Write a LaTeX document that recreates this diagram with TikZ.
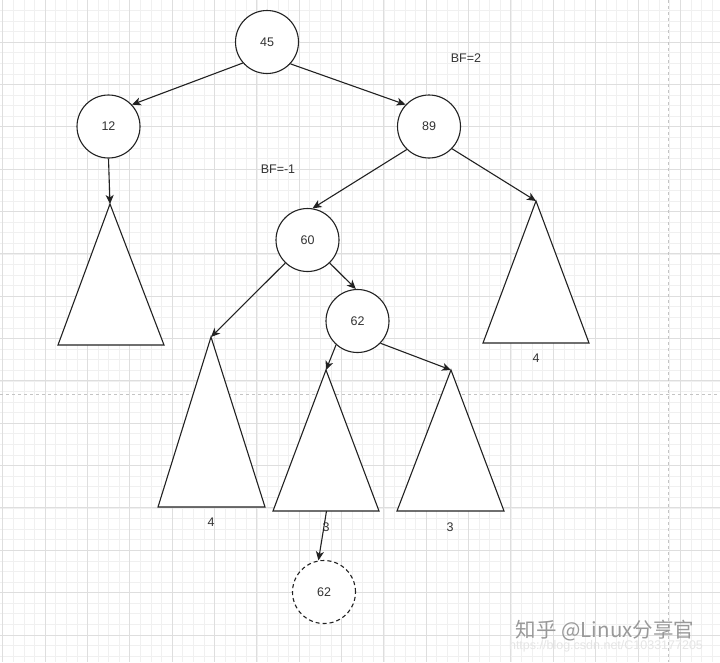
\documentclass[tikz,border=0pt]{standalone}
\usepackage{fontspec}
\setmainfont{Liberation Sans}
\newfontfamily\cjk{Noto Sans CJK SC}
\usetikzlibrary{arrows.meta}
\definecolor{minorgrid}{HTML}{F0F0F0}
\definecolor{majorgrid}{HTML}{DEDEDE}
\definecolor{pageline}{HTML}{C4C4C4}
\definecolor{ink}{HTML}{222222}
\definecolor{txt}{HTML}{333333}
\tikzset{
  circ/.style={circle, draw=ink, fill=white, line width=1.1pt, minimum size=63pt, inner sep=0pt,
    text=txt, font=\fontsize{12.5}{15}\selectfont},
  dcirc/.style={circ, dashed, dash pattern=on 4pt off 3pt},
  tri/.style={draw=ink, fill=white, line width=1.1pt, line join=miter},
  edge/.style={draw=ink, line width=1.1pt, -{Stealth[length=9pt,width=8pt,inset=2.5pt]}},
  lbl/.style={text=txt, font=\fontsize{12.5}{15}\selectfont, inner sep=1pt},
}
\begin{document}
\begin{tikzpicture}[x=1pt,y=-1pt]
\useasboundingbox (0,0) rectangle (720,662);
\fill[white] (0,0) rectangle (720,662);
% grid
\foreach \i in {0,...,68} {
  \draw[minorgrid, line width=0.5pt] ({2.65+\i*10.5875},0) -- ({2.65+\i*10.5875},662);
}
\foreach \i in {0,...,62} {
  \draw[minorgrid, line width=0.5pt] (0,{-0.35+\i*10.5875}) -- (720,{-0.35+\i*10.5875});
}
\foreach \i in {0,...,17} {
  \draw[majorgrid, line width=0.8pt] ({2.65+\i*42.35},0) -- ({2.65+\i*42.35},662);
}
\foreach \i in {0,...,15} {
  \draw[majorgrid, line width=0.8pt] (0,{-0.35+\i*42.35}) -- (720,{-0.35+\i*42.35});
}
\draw[pageline, line width=0.8pt, dash pattern=on 3pt off 3pt] (668,0) -- (668,662);
\draw[pageline, line width=0.8pt, dash pattern=on 3pt off 3pt] (0,394) -- (720,394);

% triangles (subtrees)
\draw[tri] (110,204) -- (164,345) -- (58,345) -- cycle;
\draw[tri] (211,337) -- (265,507) -- (158,507) -- cycle;
\draw[tri] (326,370) -- (379,511) -- (273,511) -- cycle;
\draw[tri] (451,370) -- (504,511) -- (397,511) -- cycle;
\draw[tri] (536,201) -- (589,343) -- (483,343) -- cycle;
\coordinate (t1) at (110,204);
\coordinate (t2) at (211,337);
\coordinate (t3) at (326,370);
\coordinate (t3b) at (326.5,511);
\coordinate (t4) at (451,370);
\coordinate (t5) at (536,201);

% nodes
\node[circ] (n45) at (267,42) {45};
\node[circ] (n12) at (108.5,126.5) {12};
\node[circ] (n89) at (429,126.5) {89};
\node[circ] (n60) at (307.5,240) {60};
\node[circ] (n62) at (357.5,321) {62};
\node[dcirc] (n62b) at (324,592) {62};

% labels
\node[lbl] (bf2) at (466,58) {BF=2};
\node[lbl] (bf1) at (278,169) {BF=-1};
\node[lbl] (l4a) at (211,522) {4};
\node[lbl] (l3a) at (326,527) {3};
\node[lbl] (l3b) at (450,527) {3};
\node[lbl] (l4b) at (536,358) {4};

% edges
\draw[edge] (n45.221) -- (n12.43);
\draw[edge] (n45.-43) -- (n89.137);
\draw[edge] (n12.south) -- (t1);
\draw[edge] (n89.226) -- (n60.81);
\draw[edge] (n89.-44) -- (t5);
\draw[edge] (n60.226) -- (t2);
\draw[edge] (n60.-46) -- (n62.93);
\draw[edge] (n62.228) -- (t3);
\draw[edge] (n62.-44) -- (t4);
\draw[edge] (t3b) -- (n62b.100);

% watermark
\node[text=black!40, font=\cjk\fontsize{20.5}{24}\selectfont, inner sep=0pt] (wm) at (605,631) {知乎 @Linux分享官};
\node[text=black!10, font=\fontsize{12.5}{15}\selectfont, inner sep=0pt] (url) at (606,646) {https://blog.csdn.net/C1033177205};
\end{tikzpicture}
\end{document}
